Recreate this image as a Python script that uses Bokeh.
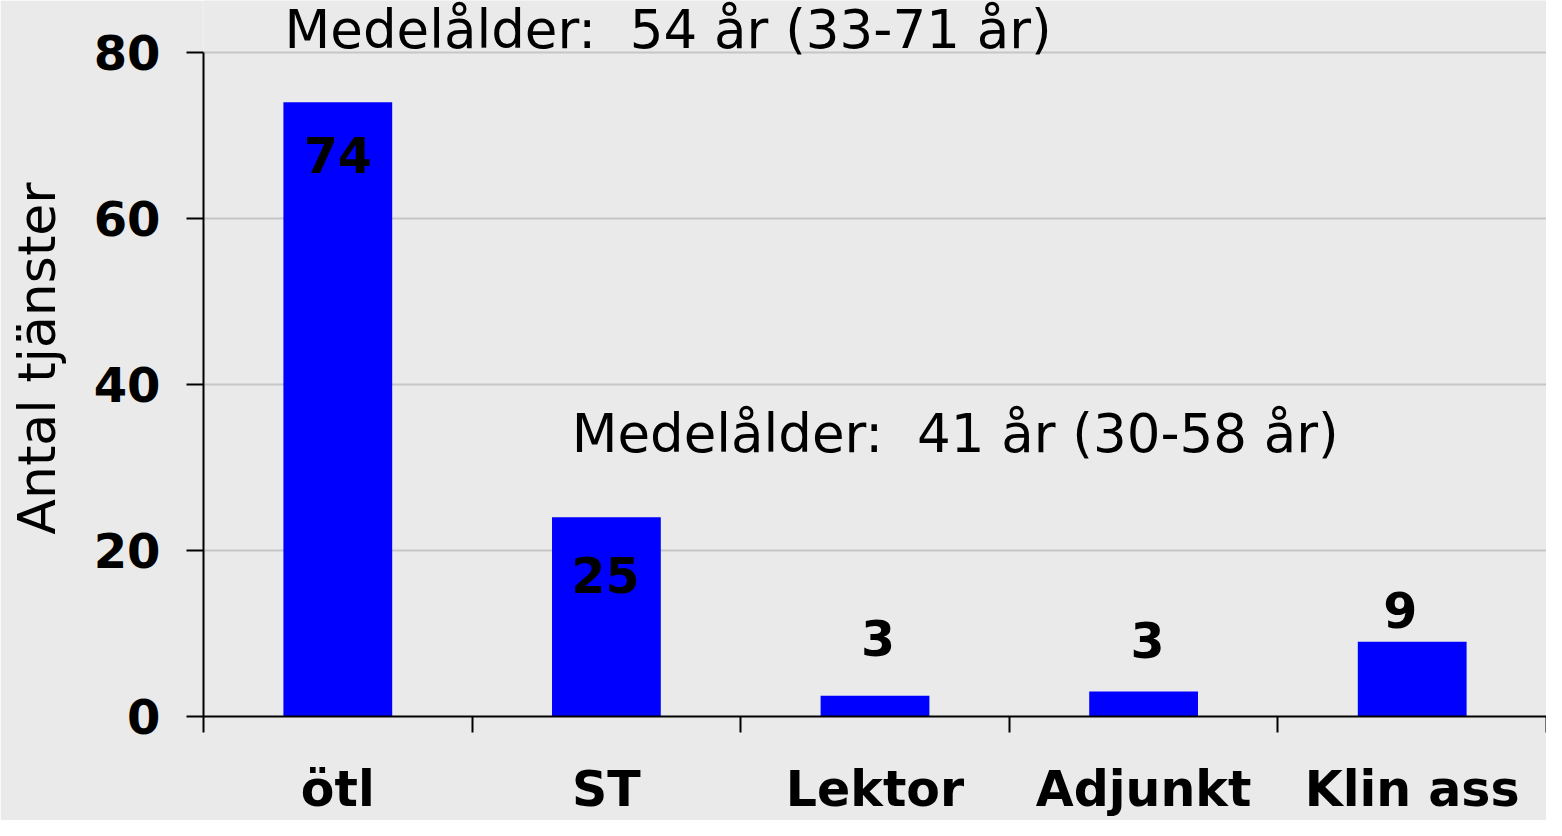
from bokeh.plotting import figure
from bokeh.models import FixedTicker, Range1d, ColumnDataSource
from bokeh.core.properties import value
from bokeh.embed import file_html
from bokeh.resources import INLINE

# ---- data ----
categories = ["ötl", "ST", "Lektor", "Adjunkt", "Klin ass"]
values = [74, 24, 2.5, 3, 9]
value_labels = ["74", "25", "3", "3", "9"]
y_ticks = [0, 20, 40, 60, 80]
annotation_texts = ["Medelålder:\u00a0 54 år (33-71 år)", "Medelålder:\u00a0 41 år (30-58 år)"]
y_title = "Antal tjänster"

# ---- layout / style ----
FONT = "DejaVu Sans"
BG = "#EAEAEA"
label_y = [65.2, 14.65, 7.1, 6.85, 10.4]           # baseline positions of value labels
label_dx = [0, -1, 3, 4, -12]                      # small pixel nudges of value labels
annotation_x = [0.302, 1.371]
annotation_y = [80.36, 31.66]
TEXT_DY = -20                                      # baseline correction in pixels

x_centers = [i + 0.5 for i in range(len(categories))]
boundaries = list(range(len(categories) + 1))

p = figure(width=1546, height=820,
           x_range=Range1d(0, len(categories)), y_range=Range1d(0, 86.27),
           output_backend="svg", toolbar_location=None,
           min_border_left=203, min_border_right=0,
           min_border_top=0, min_border_bottom=104)
p.background_fill_color = BG
p.border_fill_color = BG
p.outline_line_color = None

src = ColumnDataSource(dict(x=x_centers, top=values, label=value_labels, ly=label_y, dx=label_dx))
p.vbar(x="x", top="top", width=0.405, source=src, fill_color="#0000FF", line_color=None)

p.text(x="x", y="ly", text="label", x_offset="dx", y_offset=TEXT_DY, source=src,
       text_align="center", text_baseline="alphabetic", text_font=value(FONT),
       text_font_style="bold", text_font_size="49px", text_color="black")

ann = ColumnDataSource(dict(x=annotation_x, y=annotation_y, t=annotation_texts))
p.text(x="x", y="y", text="t", source=ann, y_offset=TEXT_DY, text_align="left",
       text_baseline="alphabetic", text_font=value(FONT), text_font_size="53px",
       text_color="black")

# grid
p.xgrid.grid_line_color = None
p.ygrid.grid_line_color = "#C6C6C6"
p.ygrid.grid_line_width = 2

# y axis
p.yaxis.ticker = FixedTicker(ticks=y_ticks)
p.yaxis.bounds = (0, 80)
p.yaxis.axis_line_color = "black"
p.yaxis.axis_line_width = 2
p.yaxis.major_tick_out = 17
p.yaxis.major_tick_in = 0
p.yaxis.major_tick_line_width = 2
p.yaxis.minor_tick_line_color = None
p.yaxis.major_label_standoff = 26
p.yaxis.major_label_text_font = FONT
p.yaxis.major_label_text_font_style = "bold"
p.yaxis.major_label_text_font_size = "48px"
p.yaxis.major_label_text_color = "black"
p.yaxis.axis_label = y_title
p.yaxis.axis_label_text_font = FONT
p.yaxis.axis_label_text_font_style = "normal"
p.yaxis.axis_label_text_font_size = "52px"
p.yaxis.axis_label_text_color = "black"
p.yaxis.axis_label_standoff = 24

# x axis
p.xaxis.ticker = FixedTicker(ticks=x_centers, minor_ticks=boundaries)
p.xaxis.major_label_overrides = {xc: c for xc, c in zip(x_centers, categories)}
p.xaxis.axis_line_color = "black"
p.xaxis.axis_line_width = 2
p.xaxis.major_tick_out = 0
p.xaxis.major_tick_in = 0
p.xaxis.minor_tick_out = 16
p.xaxis.minor_tick_in = 0
p.xaxis.minor_tick_line_width = 2
p.xaxis.minor_tick_line_color = "black"
p.xaxis.major_label_standoff = 28
p.xaxis.major_label_text_font = FONT
p.xaxis.major_label_text_font_style = "bold"
p.xaxis.major_label_text_font_size = "49px"
p.xaxis.major_label_text_color = "black"

open("out.html", "w").write(file_html(p, INLINE))
